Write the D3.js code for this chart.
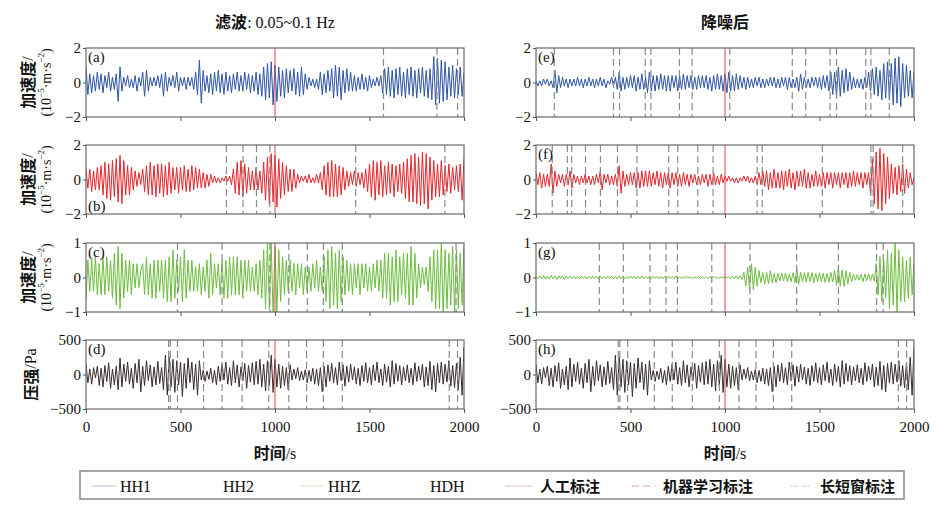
<!DOCTYPE html>
<html>
<head>
<meta charset="utf-8">
<script src="https://cdn.jsdelivr.net/npm/d3@7"></script>
<style>
  body { margin: 0; background: #fff; }
  svg text { font-family: "Liberation Serif", "Times New Roman", serif; fill: #111; }
  svg .cn { font-family: "Noto Sans CJK SC", sans-serif; font-weight: bold; }
</style>
</head>
<body>
<svg width="937" height="509"></svg>
<script>
// sample spacing of all traces, seconds
var sampleStep = 10;

// acceleration traces, unit 0.1e-5 m/s^2 (one value per 10 s)
var hh1Filtered = [
  9,-7,5,-6,4,-5,6,-4,5,-6, 4,-3,6,-5,3,-4,5,-11,9,-5, 3,-2,4,-3,2,-3,4,-5,3,-2,
  6,-8,7,-5,3,-2,3,-2,4,-3, 5,-8,6,-5,3,-2,4,-3,6,-5, 3,-2,3,-4,3,-2,3,-4,6,-7,
  13,-12,7,-5,4,-6,5,-7,6,-5, 7,-6,5,-7,6,-5,4,-6,5,-4, 6,-5,4,-5,6,-4,5,-6,4,-5,
  6,-7,5,-8,9,-10,11,-9,12,-13, 10,-11,9,-8,7,-9,8,-6,7,-5, 8,-7,6,-8,9,-7,5,-4,3,-2,
  2,-3,2,-4,6,-7,5,-6,7,-5, 8,-9,10,-8,9,-10,7,-6,8,-5, 6,-5,4,-5,3,-4,5,-4,3,-5,
  4,-3,2,-2,3,-2,4,-6,8,-7, 9,-8,7,-9,8,-7,9,-8,6,-9, 8,-7,9,-8,7,-9,8,-6,9,-8,
  7,-9,8,-10,15,-13,14,-12,13,-11, 12,-10,9,-8,10,-9,8,-7,9,-8, 6];
var hh1Denoised = [
  1,-2,1,-2,2,-1,2,-2,1,-3, 7,-6,4,-3,3,-2,2,-3,2,-2, 2,-2,3,-2,2,-3,2,-2,3,-2,
  2,-3,2,-2,3,-2,2,-3,1,-1, 3,-2,3,-4,6,-5,3,-4,3,-3, 4,-3,4,-5,3,-4,5,-4,3,-6,
  6,-5,4,-5,4,-4,5,-4,4,-5, 4,-5,4,-3,4,-5,4,-4,5,-4, 4,-3,4,-4,3,-4,4,-3,4,-3,
  4,-4,3,-5,4,-4,5,-4,4,-5, 5,-6,6,-5,4,-5,5,-4,4,-3, 3,-4,3,-3,2,-3,3,-2,3,-3,
  2,-3,2,-2,3,-2,3,-3,2,-3, 3,-2,3,-4,3,-3,2,-3,3,-5, 5,-4,3,-3,2,-3,3,-2,3,-3,
  3,-4,4,-3,4,-5,6,-7,6,-8, 9,-8,7,-6,8,-5,6,-4,3,-3, 2,-3,2,-4,3,-3,6,-5,8,-7,
  9,-8,7,-10,11,-9,12,-10,11,-13, 14,-12,15,-14,11,-9,10,-8,7,-9, 6];
var hh2Filtered = [
  6,-5,6,-7,5,-6,7,-6,8,-9, 10,-11,9,-12,11,-10,12,-13,14,-14, 11,-9,8,-9,7,-6,5,-4,4,-3,
  6,-7,8,-9,10,-9,8,-10,9,-8, 9,-10,8,-9,10,-8,7,-6,7,-8, 7,-6,8,-7,6,-7,8,-6,7,-5,
  6,-5,4,-5,3,-4,3,-2,2,-2, 1,-2,1,-1,2,-1,2,-3,6,-8, 10,-9,11,-10,9,-8,7,-6,5,-6,
  7,-6,5,-8,10,-12,13,-14,15,-13, 14,-16,12,-11,10,-9,8,-7,6,-7, 6,-5,3,-2,2,-1,2,-2,3,-2,
  1,-2,3,-2,4,-6,8,-9,10,-10, 11,-10,9,-10,8,-9,7,-6,5,-4, 4,-3,5,-4,4,-3,4,-5,6,-7,
  9,-10,11,-12,10,-9,11,-10,8,-9, 10,-8,9,-10,8,-7,9,-8,10,-11, 12,-13,14,-13,15,-14,13,-15,16,-14,
  15,-17,13,-12,11,-10,9,-10,11,-9, 8,-7,9,-8,7,-6,8,-7,9,-12, 12];
var hh2Denoised = [
  4,-3,4,-5,3,-4,3,-4,9,-8, 5,-4,3,-2,3,-4,3,-3,5,-5, 3,-2,2,-3,2,-2,3,-2,2,-3,
  2,-3,3,-2,5,-6,3,-2,3,-3, 2,-3,3,-4,8,-8,5,-4,3,-3, 4,-3,4,-5,4,-5,5,-4,5,-4,
  5,-4,4,-3,5,-4,4,-5,4,-3, 4,-5,4,-3,4,-4,3,-4,4,-3, 3,-4,3,-2,3,-3,2,-3,3,-2,
  3,-4,3,-3,4,-3,2,-3,3,-2, 2,-1,2,-1,1,-2,1,-2,1,-1, 2,-1,2,-2,1,-2,2,-3,4,-3,
  5,-4,5,-6,4,-5,6,-5,4,-5, 5,-6,5,-4,6,-5,4,-6,5,-4, 5,-4,6,-5,4,-5,3,-4,5,-4,
  3,-4,4,-5,4,-3,4,-5,4,-3, 4,-5,4,-3,4,-5,4,-4,5,-4, 4,-3,4,-5,4,-3,4,-8,12,-14,
  16,-17,18,-18,15,-14,13,-11,9,-8, 7,-9,8,-7,9,-8,6,-5,4,-3, 1];
var hhzFiltered = [
  -6,5,-4,5,-4,6,-5,4,-5,6, -5,6,-4,5,-6,7,-8,9,-9,7, -6,5,-4,5,-5,4,-3,4,-3,2,
  4,-5,6,-5,4,-6,5,-6,5,-4, 5,-6,5,-7,6,-7,8,-6,5,-4, 6,-7,8,-6,5,-4,5,-4,3,-4,
  4,-5,3,-4,5,-6,7,-5,4,-3, 4,-5,5,-6,5,-6,6,-5,6,-5, 6,-5,5,-6,5,-4,5,-4,3,-4,
  4,-5,5,-6,8,-9,10,-9,10,-11, 9,-10,8,-7,6,-5,5,-4,5,-4, 4,-5,4,-3,4,-5,3,-4,3,-4,
  4,-3,5,-4,3,-4,6,-7,8,-9, 9,-8,7,-9,8,-7,6,-5,5,-4, 4,-5,4,-3,4,-5,4,-3,4,-4,
  3,-4,4,-3,5,-4,5,-6,7,-6, 7,-8,6,-7,8,-7,6,-5,7,-6, 7,-8,9,-8,7,-6,4,-3,3,-2,
  3,-4,6,-7,8,-9,8,-9,10,-11, 8,-9,7,-8,9,-10,8,-9,7,-8, 9];
var hhzDenoised = [
  .3,-.4,.5,-.4,.6,-.5,.4,-.5,.6,-.4, .5,-.6,.5,-.4,.5,-.6,.4,-.3,.4,-.3, .3,-.4,.3,-.3,.4,-.3,.3,-.4,.3,-.3,
  .4,-.3,.4,-.5,.3,-.4,.3,-.3,.4,-.3, .3,-.4,.3,-.4,.5,-.4,.3,-.4,.3,-.3, .4,-.3,.3,-.4,.3,-.3,.4,-.3,.3,-.4,
  .3,-.3,.4,-.3,.3,-.4,.3,-.4,.3,-.3, .4,-.3,.3,-.4,.5,-.3,.2,-.3,.2,-.2, .3,-.2,.2,-.3,.2,-.2,.3,-.2,.2,-.3,
  .2,-.3,.2,-.2,.3,-.2,.2,-.3,.2,-.2, .3,-.2,.3,-.4,.3,-.4,.5,-.4,.5,-.6, 1.5,-2.5,3,-3.5,4,-3.5,3,-2.5,2,-1.5,
  1.5,-2,1.5,-1.8,2,-1.5,1.2,-1.5,1.2,-1, 1.2,-1,1.3,-1.2,1,-1.2,1.4,-1.5,2.5,-2, 1.5,-1.2,1.4,-1.3,1.5,-1.2,1.4,-1.5,1.2,-1.3,
  1.4,-1.2,1.3,-1.5,1.2,-1.4,1.5,-1.3,2,-2.2, 2.8,-2.5,2.2,-2.6,2,-1.8,1.5,-1.2,1,-.8, .9,-.8,1,-1.2,1,-.9,1.1,-1,.9,-1,
  4,-5,6,-7,5,-6,8,-9,7,-8, 10,-10,8,-7,6,-7,5,-6,6,-5, 4];
// pressure trace, unit 10 Pa (same in both columns)
var hdhPressure = [
  15,-12,8,-14,10,-5,12,-16,9,-18, 13,-10,17,-20,8,-15,12,-22,24,-18, 15,-10,18,-14,9,-20,16,-12,22,-25,
  12,-16,20,-9,14,-18,11,-15,19,-13, 10,-22,28,-30,25,-18,22,-26,20,-15, 18,-32,16,-20,24,-12,18,-22,15,-30,
  20,-8,6,-10,5,-7,9,-12,6,-15, 12,-10,15,-8,18,-14,10,-16,20,-12, 14,-18,11,-9,16,-20,13,-11,17,-15,
  19,-14,22,-18,15,-24,20,-16,28,-26, 22,-18,15,-20,12,-16,10,-22,14,-8, 8,-6,10,-9,5,-8,7,-12,6,-10,
  9,-14,8,-16,10,-25,12,-18,14,-10, 16,-12,10,-15,18,-9,14,-17,12,-11, 15,-8,11,-14,9,-16,13,-10,17,-12,
  10,-15,14,-9,18,-12,8,-16,15,-11, 12,-18,20,-14,16,-10,13,-15,11,-9, 14,-12,9,-15,17,-10,12,-8,15,-18,
  11,-16,19,-22,13,-25,16,-12,18,-14, 15,-11,20,-17,13,-19,16,-22,25,-30, 40];

// event picks, seconds
var manualPick = 1000;
var picksA = [1574, 1857, 1966];
var picksB = [743, 831, 902, 973, 1427, 1899];
var picksC = [484, 720, 973, 1073, 1171, 1256, 1356, 1958];
var picksD = [437, 446, 484, 622, 720, 826, 967, 1073, 1167, 1256, 1356, 1922, 1966];
var picksE = [97, 410, 442, 578, 608, 759, 826, 1025, 1356, 1427, 1556, 1590, 1745, 1772, 1869];
var picksF = [86, 166, 189, 262, 341, 431, 534, 702, 750, 856, 937, 1170, 1197, 1515, 1772, 1784, 1940];
var picksG = [335, 462, 603, 688, 748, 930, 1132, 1379, 1600, 1802, 1837];
var picksH = [435, 444, 485, 626, 721, 827, 970, 1074, 1164, 1256, 1353, 1917, 1961];

// axis ticks
var timeTicks = [0, 500, 1000, 1500, 2000];
var accTicks2 = [-2, 0, 2];
var accTicks1 = [-1, 0, 1];
var pressTicks = [-500, 0, 500];

var blue = '#2f55a4', red = '#e5262c', green = '#6dbd3e', dark = '#362e2f';

function main() {
    var svg = d3.select('svg');
    var colX = [86, 536], rowY = [48, 145, 243, 340];
    var plotW = 378, plotH = 69;

    var panels = [
        {lab: '(a)', col: 0, row: 0, data: hh1Filtered, k: 0.1, ticks: accTicks2, color: blue, picks: picksA},
        {lab: '(b)', col: 0, row: 1, data: hh2Filtered, k: 0.1, ticks: accTicks2, color: red, picks: picksB, labBottom: true},
        {lab: '(c)', col: 0, row: 2, data: hhzFiltered, k: 0.1, ticks: accTicks1, color: green, picks: picksC},
        {lab: '(d)', col: 0, row: 3, data: hdhPressure, k: 10, ticks: pressTicks, color: dark, picks: picksD},
        {lab: '(e)', col: 1, row: 0, data: hh1Denoised, k: 0.1, ticks: accTicks2, color: blue, picks: picksE},
        {lab: '(f)', col: 1, row: 1, data: hh2Denoised, k: 0.1, ticks: accTicks2, color: red, picks: picksF},
        {lab: '(g)', col: 1, row: 2, data: hhzDenoised, k: 0.1, ticks: accTicks1, color: green, picks: picksG},
        {lab: '(h)', col: 1, row: 3, data: hdhPressure, k: 10, ticks: pressTicks, color: dark, picks: picksH}
    ];

    var fmt = function(d) { return d < 0 ? '\u2212' + Math.abs(d) : d; };

    panels.forEach(function(p, n) {
        var g = svg.append('g').attr('transform', 'translate(' + colX[p.col] + ',' + rowY[p.row] + ')');
        var xs = d3.scaleLinear().domain([0, 2000]).range([0, plotW]);
        var ys = d3.scaleLinear().domain([p.ticks[0], p.ticks[2]]).range([plotH, 0]);

        g.append('clipPath').attr('id', 'clip' + n)
         .append('rect').attr('width', plotW).attr('height', plotH);

        var line = d3.line()
            .x(function(d, i) { return xs(i * sampleStep); })
            .y(function(d) { return ys(d * p.k); });

        g.append('path')
         .datum(p.data)
         .attr('clip-path', 'url(#clip' + n + ')')
         .attr('fill', 'none')
         .attr('stroke', p.color)
         .attr('stroke-width', 1)
         .attr('d', line);

        g.selectAll('.pick')
         .data(p.picks)
         .enter().append('line')
         .attr('x1', function(d) { return xs(d); })
         .attr('x2', function(d) { return xs(d); })
         .attr('y1', 0).attr('y2', plotH)
         .attr('stroke', '#8a8a8a')
         .attr('stroke-width', 1.2)
         .attr('stroke-dasharray', '7,4');

        g.append('line') // manual pick
         .attr('x1', xs(manualPick)).attr('x2', xs(manualPick))
         .attr('y1', 0).attr('y2', plotH)
         .attr('stroke', '#e0474c').attr('stroke-width', 1);

        g.append('rect')
         .attr('width', plotW).attr('height', plotH)
         .attr('fill', 'none').attr('stroke', '#6a6a6a').attr('stroke-width', 1.2);

        var yAx = g.append('g')
         .call(d3.axisLeft(ys).tickValues(p.ticks).tickSize(3).tickPadding(2).tickFormat(fmt));
        var xAx = g.append('g')
         .attr('transform', 'translate(0,' + plotH + ')')
         .call(d3.axisBottom(xs).tickValues(timeTicks).tickSize(4).tickPadding(8)
               .tickFormat(p.row === 3 ? function(d) { return d; } : function() { return ''; }));
        [yAx, xAx].forEach(function(a) {
            a.select('.domain').remove();
            a.selectAll('line').attr('stroke', '#555');
            a.selectAll('text').style('font-size', '15px').attr('fill', '#111')
             .style('font-family', '"Liberation Serif", serif');
        });

        g.append('text')
         .attr('x', 2).attr('y', p.labBottom ? plotH - 3 : 14)
         .style('font-size', '15px')
         .text(p.lab);
    });

    // y axis titles (left column)
    [0, 1, 2].forEach(function(r) {
        var cy = rowY[r] + plotH / 2;
        var t1 = svg.append('text')
         .attr('transform', 'translate(27,' + cy + ') rotate(-90)')
         .attr('text-anchor', 'middle').attr('dominant-baseline', 'central');
        t1.append('tspan').attr('class', 'cn').style('font-size', '16px').text('加速度');
        t1.append('tspan').style('font-size', '16px').text('/');
        var t2 = svg.append('text')
         .attr('transform', 'translate(46,' + cy + ') rotate(-90)')
         .attr('text-anchor', 'middle').attr('dominant-baseline', 'central')
         .style('font-size', '14px');
        t2.append('tspan').text('(10');
        t2.append('tspan').attr('dy', -5).style('font-size', '9px').text('\u22125');
        t2.append('tspan').attr('dy', 5).text('\u00b7m\u00b7s');
        t2.append('tspan').attr('dy', -5).style('font-size', '9px').text('\u22122');
        t2.append('tspan').attr('dy', 5).text(')');
    });
    var tp = svg.append('text')
     .attr('transform', 'translate(30,' + (rowY[3] + plotH / 2) + ') rotate(-90)')
     .attr('text-anchor', 'middle').attr('dominant-baseline', 'central');
    tp.append('tspan').attr('class', 'cn').style('font-size', '16px').text('压强');
    tp.append('tspan').style('font-size', '16px').text('/Pa');

    // column titles and time labels
    var tt = svg.append('text').attr('x', colX[0] + plotW / 2).attr('y', 28).attr('text-anchor', 'middle');
    tt.append('tspan').attr('class', 'cn').style('font-size', '16px').text('滤波');
    tt.append('tspan').style('font-size', '16px').text(': 0.05~0.1 Hz');
    svg.append('text').attr('class', 'cn').attr('x', colX[1] + plotW / 2).attr('y', 28)
     .attr('text-anchor', 'middle').style('font-size', '16px').text('降噪后');
    colX.forEach(function(cx) {
        var t = svg.append('text').attr('x', cx + plotW / 2).attr('y', 459).attr('text-anchor', 'middle');
        t.append('tspan').attr('class', 'cn').style('font-size', '16px').text('时间');
        t.append('tspan').style('font-size', '16px').text('/s');
    });

    // legend
    var leg = svg.append('g');
    leg.append('rect').attr('x', 80).attr('y', 471).attr('width', 824).attr('height', 28)
     .attr('fill', 'none').attr('stroke', '#888').attr('stroke-width', 1.5);
    var items = [
        {name: 'HH1', x: 120, line: [92, 117], stroke: '#c9cde0', dash: null},
        {name: 'HH2', x: 223, line: null},
        {name: 'HHZ', x: 328, line: [300, 323], stroke: '#dde4d2', dash: null},
        {name: 'HDH', x: 430, line: null},
        {name: '人工标注', x: 540, line: [505, 532], stroke: '#ecc8c8', dash: null, cn: true},
        {name: '机器学习标注', x: 663, line: [632, 655], stroke: '#e0a2a2', dash: '7,4', cn: true},
        {name: '长短窗标注', x: 820, line: [790, 811], stroke: '#dadada', dash: '8,4', cn: true}
    ];
    items.forEach(function(it) {
        if (it.line) {
            leg.append('line').attr('x1', it.line[0]).attr('x2', it.line[1])
             .attr('y1', 486).attr('y2', 486)
             .attr('stroke', it.stroke).attr('stroke-width', 1.2)
             .attr('stroke-dasharray', it.dash);
        }
        leg.append('text').attr('x', it.x).attr('y', 492)
         .attr('class', it.cn ? 'cn' : null)
         .style('font-size', it.cn ? '15px' : '16px')
         .text(it.name);
    });
}
main();
</script>
</body>
</html>
